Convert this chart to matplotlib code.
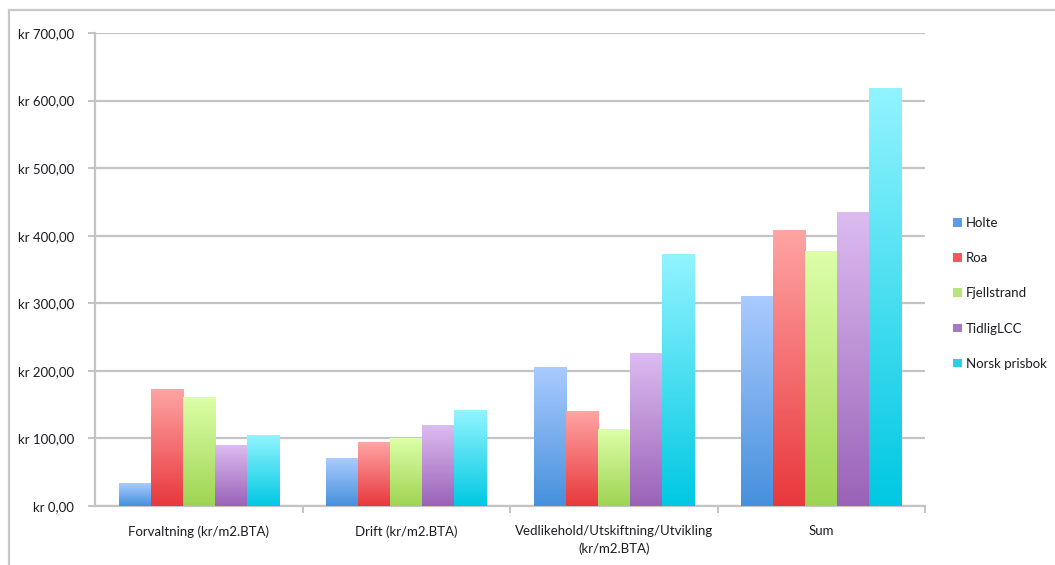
import numpy as np
import matplotlib
matplotlib.use("Agg")
import matplotlib.pyplot as plt
from matplotlib.patches import Rectangle, Patch
from matplotlib.colors import LinearSegmentedColormap
from matplotlib.ticker import FuncFormatter, FixedLocator

# Cost categories and values (kr per m2 BTA)
categories = ["Forvaltning (kr/m2.BTA)", "Drift (kr/m2.BTA)",
              "Vedlikehold/Utskiftning/Utvikling\n(kr/m2.BTA)", "Sum"]
series_names = ["Holte", "Roa", "Fjellstrand", "TidligLCC", "Norsk prisbok"]
holte = [34, 70, 205, 310]
roa = [172, 94, 140, 407]
fjellstrand = [160, 100, 113, 376]
tidliglcc = [89, 119, 225, 435]
norsk_prisbok = [104, 141, 372, 618]
series_values = [holte, roa, fjellstrand, tidliglcc, norsk_prisbok]

# (top colour, bottom colour) of each series' gradient
gradients = [("#aacbff", "#4690dc"),
             ("#ffa4a4", "#e8383c"),
             ("#dcffa8", "#9ed452"),
             ("#dcbcf0", "#9a62b8"),
             ("#92f4ff", "#00c8e2")]
legend_colors = ["#5a9ce6", "#f25a5a", "#b6e67a", "#a878c8", "#28d0ea"]

plt.rcParams["font.family"] = ["Lato", "DejaVu Sans"]
text_color = "#1c1c24"
grid_color = "#c4c4c4"

W, H = 1055, 565
fig = plt.figure(figsize=(W / 100, H / 100), dpi=100)
fig.patch.set_facecolor("white")

# light frame around the chart area
fig.patches.append(Rectangle((9 / W, -0.1), 1.2, (H - 10) / H + 0.1,
                             transform=fig.transFigure, fill=False,
                             edgecolor="#c8c8c8", linewidth=1.6))

ax = fig.add_axes([95 / W, 59 / H, 830 / W, 473 / H])

n = len(series_names)
group_w = 0.772
bar_w = group_w / n
x = np.arange(len(categories))

for i, (vals, (top, bottom)) in enumerate(zip(series_values, gradients)):
    offs = x - group_w / 2 + bar_w * (i + 0.5)
    bars = ax.bar(offs, vals, width=bar_w, color="none", edgecolor="none", zorder=3)
    cmap = LinearSegmentedColormap.from_list(f"g{i}", [bottom, top])
    grad = np.linspace(0, 1, 256).reshape(-1, 1)
    for b in bars:
        x0, y0 = b.get_x(), b.get_y()
        ax.imshow(grad, cmap=cmap, origin="lower", aspect="auto",
                  extent=(x0, x0 + b.get_width(), y0, y0 + b.get_height()),
                  zorder=3, interpolation="bilinear")

ax.set_xlim(-0.5, len(categories) - 0.5)
ax.set_ylim(0, 700)
ax.set_yticks(np.arange(0, 701, 100))
ax.yaxis.set_major_formatter(FuncFormatter(lambda v, p: f"kr {v:,.2f}".replace(".", ",")))
ax.grid(axis="y", color=grid_color, linewidth=1.6, zorder=1)
ax.set_axisbelow(True)

ax.set_xticks(x)
ax.set_xticklabels(categories, fontsize=9.5, color=text_color, linespacing=1.5)
ax.tick_params(axis="x", which="major", length=0, pad=14)
ax.xaxis.set_minor_locator(FixedLocator(np.arange(0.5, len(categories), 1)))
ax.tick_params(axis="x", which="minor", length=5, width=1.4, color=grid_color)
ax.tick_params(axis="y", length=5, width=1.4, color=grid_color,
               labelsize=9.5, labelcolor=text_color, pad=10)

for side in ("top", "right"):
    ax.spines[side].set_visible(False)
for side in ("left", "bottom"):
    ax.spines[side].set_color(grid_color)
    ax.spines[side].set_linewidth(1.6)

handles = [Patch(facecolor=c, edgecolor="none") for c in legend_colors]
fig.legend(handles, series_names, loc="upper left",
           bbox_to_anchor=(948 / W, 1 - 212 / H), frameon=False,
           fontsize=9.5, labelcolor=text_color, handlelength=0.65,
           handleheight=0.65, handletextpad=0.3, labelspacing=1.75,
           borderaxespad=0)

fig.savefig("out.png", dpi=100)
